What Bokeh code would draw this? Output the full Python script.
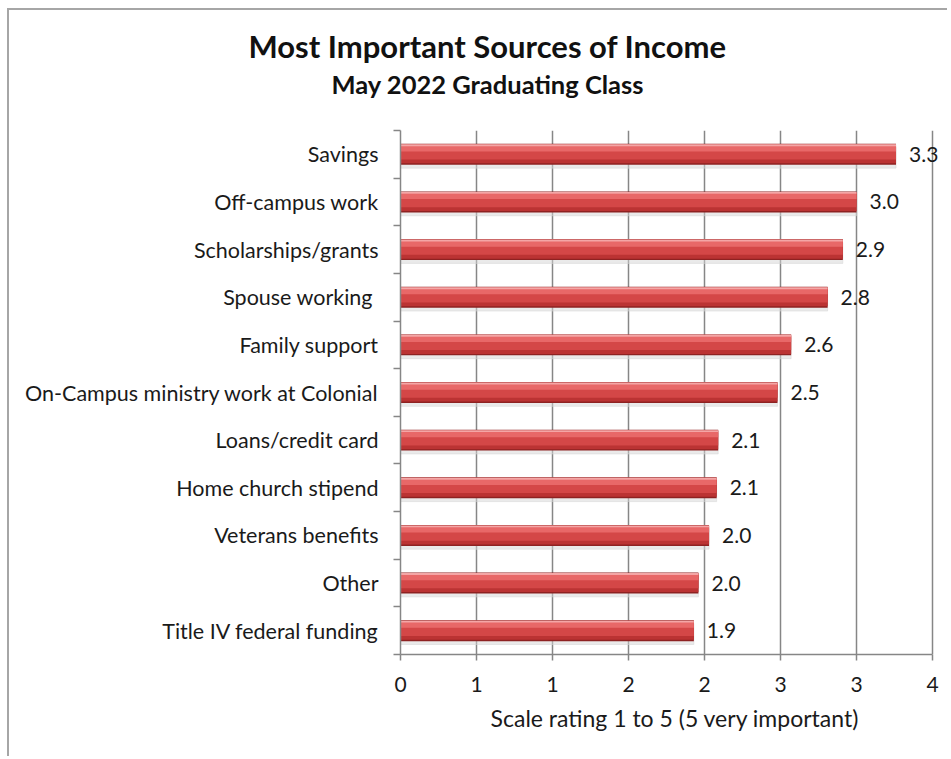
from bokeh.plotting import figure
from bokeh.models import Range1d, FixedTicker, Title, ColumnDataSource, LabelSet
from bokeh.embed import file_html
from bokeh.resources import INLINE
from bokeh.core.properties import value

categories = ["Savings", "Off-campus work", "Scholarships/grants", "Spouse working ",
              "Family support", "On-Campus ministry work at Colonial", "Loans/credit card",
              "Home church stipend", "Veterans benefits", "Other", "Title IV federal funding"]
values = [3.26, 3.00, 2.91, 2.81, 2.57, 2.48, 2.09, 2.08, 2.03, 1.96, 1.93]
x_ticks = [0, 0.5, 1, 1.5, 2, 2.5, 3, 3.5]
x_tick_labels = ["0", "1", "1", "2", "2", "3", "3", "4"]

FONT = "Lato"
n = len(categories)
ypos = [n - i - 0.5 for i in range(n)]
bounds = list(range(0, n + 1))
x_max = x_ticks[-1]

src = ColumnDataSource(dict(
    y=ypos, v=values,
    lab=[f"{v:.1f}" for v in values],
))

W, H = 940, 748
LEFT, TOP, BOTTOM = 391, 120, 104
# frame reaches the canvas edge so the last value label is not clipped;
# the axis itself stops at the last tick
x_end = x_max * (W - LEFT) / 532.0

p = figure(width=W, height=H, output_backend="svg", toolbar_location=None,
           x_range=Range1d(0, x_end), y_range=Range1d(0, n),
           min_border_left=LEFT, min_border_right=0, min_border_top=TOP,
           min_border_bottom=BOTTOM)
p.styles = {"border-top": "2px solid #a6a6a6", "border-left": "2px solid #a6a6a6",
            "margin-left": "7px", "margin-top": "8px"}
p.outline_line_color = None
p.background_fill_color = "white"
p.border_fill_color = "white"

# titles (first added sits closest to the frame)
spacer = Title(text=" ", text_font=FONT, text_font_size="22px", standoff=0)
sub = Title(text="May 2022 Graduating Class", align="left", offset=-69,
            text_font=FONT, text_font_size="25.5px", text_font_style="bold",
            text_color="#111111", standoff=5)
main = Title(text="Most Important Sources of Income", align="left", offset=-152,
             text_font=FONT, text_font_size="31px", text_font_style="bold",
             text_color="#111111", standoff=0)
p.add_layout(spacer, "above")
p.add_layout(sub, "above")
p.add_layout(main, "above")

# bars: layered bands to mimic the cylindrical look
src_sh = ColumnDataSource(dict(y=[y - 0.07 for y in ypos], v=values))
p.hbar(y="y", right="v", left=0, height=0.44, source=src_sh, color="#d6d6d6", alpha=0.5)
layers = [(0.0, 0.44, "#8e2222"), (0.01, 0.40, "#bb3333"), (0.04, 0.30, "#d44747"),
          (0.12, 0.12, "#e86868"), (0.19, 0.04, "#f4a6a6")]
for dy, h, c in layers:
    s = ColumnDataSource(dict(y=[y + dy for y in ypos], v=values))
    p.hbar(y="y", right="v", left=0, height=h, source=s, color=c, line_color=None)

labels = LabelSet(x="v", y="y", text="lab", source=src, x_offset=13,
                  text_baseline="middle", text_align="left",
                  text_font=value(FONT), text_font_size=value("21px"),
                  text_color=value("#1a1a1a"))
p.add_layout(labels)

# x axis
p.xaxis.bounds = (0, x_max)
p.xaxis.ticker = FixedTicker(ticks=x_ticks)
p.xaxis.major_label_overrides = {t: l for t, l in zip(x_ticks, x_tick_labels)}
p.xaxis.axis_label = "Scale rating 1 to 5 (5 very important)"
p.xaxis.axis_label_text_font = FONT
p.xaxis.axis_label_text_font_size = "23px"
p.xaxis.axis_label_text_font_style = "normal"
p.xaxis.axis_label_text_color = "#1a1a1a"
p.xaxis.axis_label_standoff = 9
p.xaxis.major_label_text_font = FONT
p.xaxis.major_label_text_font_size = "21px"
p.xaxis.major_label_text_color = "#1a1a1a"
p.xaxis.major_label_standoff = 16
p.xaxis.major_tick_in = 0
p.xaxis.major_tick_out = 6
p.xaxis.minor_tick_line_color = None
p.xaxis.axis_line_color = "#868686"
p.xaxis.axis_line_width = 1.5
p.xaxis.major_tick_line_color = "#868686"
p.xaxis.major_tick_line_width = 1.5

# y axis: labels at category centres, tick marks at boundaries
p.yaxis.ticker = FixedTicker(ticks=ypos, minor_ticks=bounds)
p.yaxis.major_label_overrides = {y: c for y, c in zip(ypos, categories)}
p.yaxis.major_label_text_font = FONT
p.yaxis.major_label_text_font_size = "21.5px"
p.yaxis.major_label_text_color = "#1a1a1a"
p.yaxis.major_label_standoff = 15
p.yaxis.major_tick_line_color = None
p.yaxis.major_tick_in = 0
p.yaxis.major_tick_out = 0
p.yaxis.minor_tick_in = 0
p.yaxis.minor_tick_out = 7
p.yaxis.minor_tick_line_color = "#868686"
p.yaxis.minor_tick_line_width = 1.5
p.yaxis.axis_line_color = "#868686"
p.yaxis.axis_line_width = 1.5

p.xgrid.ticker = FixedTicker(ticks=x_ticks[1:])
p.xgrid.grid_line_color = "#868686"
p.xgrid.grid_line_width = 1.5
p.ygrid.grid_line_color = None

open("out.html", "w").write(file_html(p, INLINE))
